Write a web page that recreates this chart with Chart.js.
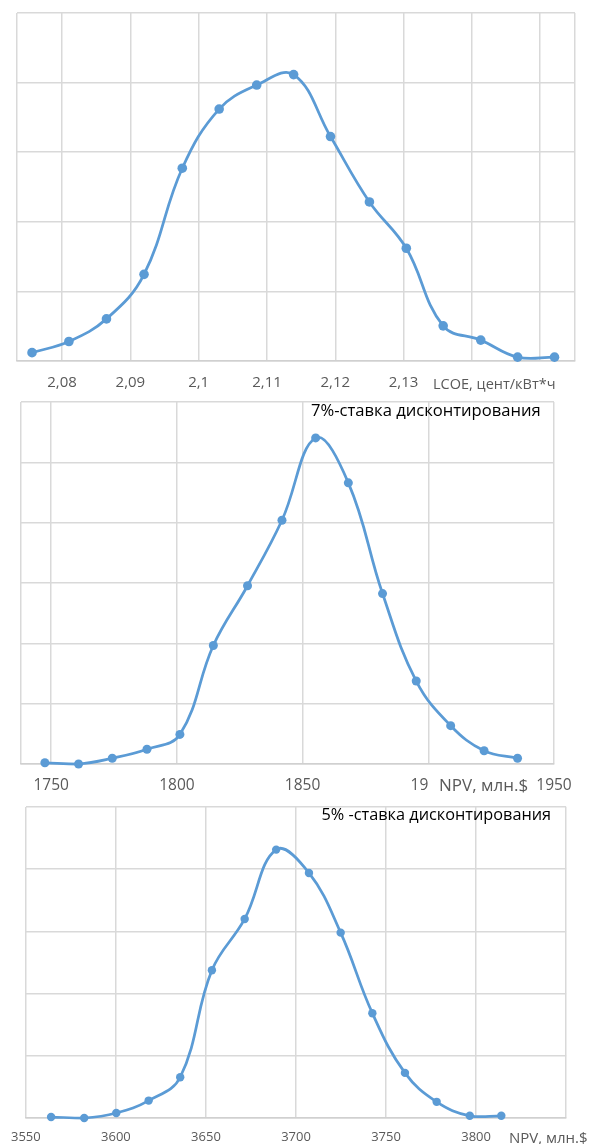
<!DOCTYPE html>
<html>
<head>
<meta charset="utf-8">
<script src="https://cdn.jsdelivr.net/npm/chart.js@4/dist/chart.umd.min.js"></script>
<style>
html,body{margin:0;padding:0;background:#fff;}
body{width:592px;height:1144px;position:relative;overflow:hidden;}
.box{position:absolute;left:0;width:592px;}
canvas{display:block;}
</style>
</head>
<body>
<div class="box" style="top:0;height:395px"><canvas id="c1"></canvas></div>
<div class="box" style="top:395px;height:405px"><canvas id="c2"></canvas></div>
<div class="box" style="top:800px;height:344px"><canvas id="c3"></canvas></div>
<script>
// ---------- DATA ----------
// LCOE distribution
const lcoeValues = [2.0756, 2.0810, 2.0865, 2.0920, 2.0976, 2.1030, 2.1085, 2.1139, 2.1193, 2.1250, 2.1304, 2.1358, 2.1413, 2.1467, 2.1521];
const lcoeFreq   = [2.4, 5.6, 12.1, 24.9, 55.4, 72.4, 79.3, 82.3, 64.5, 45.7, 32.4, 10.1, 6.0, 1.1, 1.1];
const lcoeTicks  = [2.08, 2.09, 2.10, 2.11, 2.12, 2.13, 2.14, 2.15];
const lcoeAxisTitle = 'LCOE, цент/кВт*ч';

// NPV at 7% discount rate
const npv7Values = [1747.5, 1760.9, 1774.3, 1788.1, 1801.2, 1814.5, 1828.1, 1841.8, 1855.2, 1868.2, 1881.8, 1895.2, 1908.9, 1922.2, 1935.5];
const npv7Freq   = [0.4, 0.0, 1.9, 4.9, 9.8, 39.3, 59.1, 80.8, 108.1, 93.2, 56.5, 27.5, 12.7, 4.4, 1.9];
const npv7Ticks  = [1750, 1800, 1850, 1900, 1950];
const npv7Title  = '7%-ставка дисконтирования';

// NPV at 5% discount rate
const npv5Values = [3564.0, 3582.4, 3600.2, 3618.2, 3635.7, 3653.3, 3671.5, 3689.0, 3707.2, 3724.8, 3742.4, 3760.5, 3778.1, 3796.5, 3814.0];
const npv5Freq   = [0.3, 0.0, 1.6, 5.6, 13.1, 47.5, 64.0, 86.3, 78.8, 59.6, 33.7, 14.5, 5.2, 0.7, 0.7];
const npv5Ticks  = [3550, 3600, 3650, 3700, 3750, 3800, 3850];
const npv5Title  = '5% -ставка дисконтирования';
const npvAxisTitle = 'NPV, млн.$';

// ---------- STYLE ----------
const BLUE = '#5B9BD5';
const GRID = '#D9D9D9';
const AXIS = '#D0D0D0';
const GREY = '#595959';
const FONT = "'Open Sans', 'Noto Sans', sans-serif";

function overlayPlugin(o) {
  return {
    id: 'overlay',
    afterDraw(chart) {
      const ctx = chart.ctx;
      ctx.save();
      if (o.axisTitle) {
        ctx.font = o.axisTitle.size + 'px ' + FONT;
        const w = ctx.measureText(o.axisTitle.text).width;
        const x0 = o.axisTitle.left;
        const top = chart.chartArea.bottom + 2;
        ctx.fillStyle = '#ffffff';
        ctx.fillRect(x0 - 11, top, w + 15, chart.height - top);
        ctx.fillStyle = GREY;
        ctx.textAlign = 'left';
        ctx.textBaseline = 'alphabetic';
        ctx.fillText(o.axisTitle.text, x0, o.axisTitle.baseline);
      }
      if (o.title) {
        ctx.font = o.title.size + 'px ' + FONT;
        ctx.fillStyle = '#000000';
        ctx.textAlign = 'left';
        ctx.textBaseline = 'alphabetic';
        ctx.fillText(o.title.text, o.title.left, o.title.baseline);
      }
      ctx.restore();
    }
  };
}

function makeChart(id, c) {
  const pts = c.xs.map((x, i) => ({x: x, y: c.ys[i]}));
  const gridVals = [c.min].concat(c.ticks.filter(v => v > c.min && v < c.max)).concat([c.max]);
  return new Chart(document.getElementById(id), {
    type: 'line',
    data: {
      datasets: [{
        data: pts,
        borderColor: BLUE,
        backgroundColor: BLUE,
        borderWidth: 2.75,
        pointRadius: c.r,
        pointBackgroundColor: BLUE,
        pointBorderColor: BLUE,
        pointBorderWidth: 0,
        tension: 0.4,
        fill: false,
        clip: false
      }]
    },
    options: {
      responsive: true,
      maintainAspectRatio: false,
      animation: false,
      events: [],
      layout: {padding: c.pad},
      plugins: {legend: {display: false}, tooltip: {enabled: false}, title: {display: false}},
      scales: {
        x: {
          type: 'linear',
          min: c.min,
          max: c.max,
          afterBuildTicks: s => { s.ticks = gridVals.map(v => ({value: v})); },
          afterFit: s => { s.height = c.axisH; },
          ticks: {
            autoSkip: false,
            maxRotation: 0,
            minRotation: 0,
            padding: c.tickPad,
            color: GREY,
            font: {family: FONT, size: c.tickSize},
            callback: v => c.ticks.some(t => Math.abs(t - v) < 1e-9) ? c.fmt(v) : ''
          },
          grid: {color: GRID, lineWidth: 1.5, drawTicks: false},
          border: {display: true, color: AXIS, width: 1.5}
        },
        y: {
          min: 0,
          max: c.ymax,
          ticks: {display: false, stepSize: 20},
          grid: {color: GRID, lineWidth: 1.5, drawTicks: false},
          border: {display: false},
          afterFit: s => { s.width = 0; }
        }
      }
    },
    plugins: [overlayPlugin(c.overlay)]
  });
}

const fmtComma = v => String(+v.toFixed(2)).replace('.', ',');
const fmtInt = v => String(Math.round(v));

makeChart('c1', {
  xs: lcoeValues, ys: lcoeFreq, ticks: lcoeTicks, fmt: fmtComma,
  min: 2.0734, max: 2.1551, ymax: 100,
  pad: {left: 17, right: 17, top: 13, bottom: 0},
  axisH: 34, tickPad: 13, tickSize: 15, r: 4.8,
  overlay: {axisTitle: {text: lcoeAxisTitle, left: 433, baseline: 388.5, size: 14.5}}
});

makeChart('c2', {
  xs: npv7Values, ys: npv7Freq, ticks: npv7Ticks, fmt: fmtInt,
  min: 1738, max: 1950, ymax: 120,
  pad: {left: 21, right: 38, top: 7, bottom: 0},
  axisH: 36, tickPad: 12, tickSize: 15.5, r: 4.5,
  overlay: {
    axisTitle: {text: npvAxisTitle, left: 439, baseline: 395.5, size: 17},
    title: {text: npv7Title, left: 311, baseline: 20.5, size: 16.6}
  }
});

makeChart('c3', {
  xs: npv5Values, ys: npv5Freq, ticks: npv5Ticks, fmt: fmtInt,
  min: 3550, max: 3850, ymax: 100,
  pad: {left: 23, right: 25, top: 7, bottom: 0},
  axisH: 26, tickPad: 11, tickSize: 13, r: 4.2,
  overlay: {
    axisTitle: {text: npvAxisTitle, left: 509, baseline: 342.5, size: 15},
    title: {text: npv5Title, left: 321.5, baseline: 19.5, size: 16.3}
  }
});
</script>
</body>
</html>
